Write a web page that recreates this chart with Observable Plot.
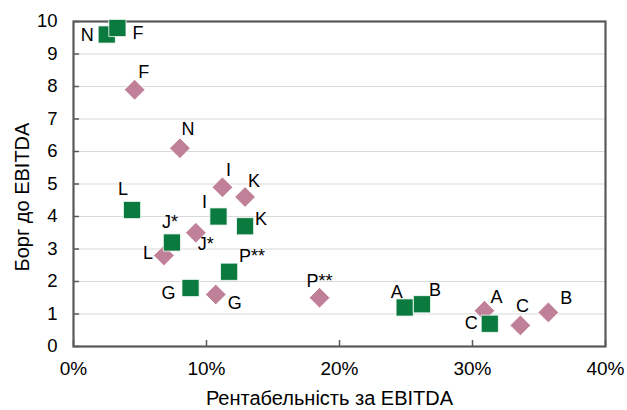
<!DOCTYPE html>
<html>
<head>
<meta charset="utf-8">
<script src="https://cdn.jsdelivr.net/npm/d3@7"></script>
<script src="https://cdn.jsdelivr.net/npm/@observablehq/plot@0.6"></script>
<style>
  html, body { margin: 0; padding: 0; background: #fff; }
  #chart svg { display: block; }
</style>
</head>
<body>
<div id="chart"></div>
<script>
// Series 1: green squares
const greenNames = ["N", "F", "L", "J*", "I", "K", "P**", "G", "A", "B", "C"];
const greenMargin = [2.5, 3.3, 4.4, 7.4, 10.9, 12.9, 11.7, 8.8, 24.9, 26.2, 31.3]; // EBITDA margin, %
const greenDebt = [9.6, 9.8, 4.2, 3.2, 4.0, 3.7, 2.3, 1.8, 1.2, 1.3, 0.7];          // Debt / EBITDA

// Series 2: pink diamonds
const pinkNames = ["F", "N", "I", "K", "J*", "L", "G", "P**", "A", "C", "B"];
const pinkMargin = [4.6, 8.0, 11.2, 12.9, 9.2, 6.8, 10.7, 18.5, 30.9, 33.6, 35.7];
const pinkDebt = [7.9, 6.1, 4.9, 4.6, 3.5, 2.8, 1.6, 1.5, 1.1, 0.65, 1.05];

// Axis ticks and titles
const xTicks = [0, 10, 20, 30, 40];
const yTicks = [0, 1, 2, 3, 4, 5, 6, 7, 8, 9, 10];
const xTitle = "Рентабельність за EBITDA";
const yTitle = "Борг до EBITDA";

// Label placement (layout only): [anchor, dx, dy]
const greenLabelPlace = [
  ["end", -13, 1], ["start", 15, 5], ["middle", -9, -21], ["middle", -2, -20],
  ["middle", -14, -14], ["start", 10, -7], ["start", 10, -16], ["end", -15, 5],
  ["middle", -8, -15], ["middle", 13, -14], ["end", -12, -1]
];
const pinkLabelPlace = [
  ["middle", 9, -18], ["middle", 8, -19], ["middle", 6, -17], ["middle", 9, -16],
  ["middle", 10, 11], ["end", -11, -2], ["start", 12, 9], ["middle", 0, -17],
  ["middle", 12, -14], ["middle", 2, -19], ["middle", 18, -14]
];

const green = greenNames.map((n, i) => ({name: n, x: greenMargin[i] / 100, y: greenDebt[i], place: greenLabelPlace[i]}));
const pink = pinkNames.map((n, i) => ({name: n, x: pinkMargin[i] / 100, y: pinkDebt[i], place: pinkLabelPlace[i]}));

const GREEN = "#0b7a3f";
const PINK = "#bf8098";
const AXIS = "#595959";
const FONT = "Liberation Sans, Arial, sans-serif";

function labelMarks(data) {
  return data.map(d => Plot.text([d], {
    x: "x", y: "y", text: "name",
    textAnchor: d.place[0], dx: d.place[1], dy: d.place[2],
    fontSize: 18, fill: "#000", lineAnchor: "middle"
  }));
}

const chart = Plot.plot({
  width: 627,
  height: 410,
  marginLeft: 73,
  marginRight: 22,
  marginTop: 21,
  marginBottom: 64,
  style: {fontFamily: FONT, fontSize: "18px", color: "#000", background: "#fff"},
  x: {domain: [0, 0.4]},
  y: {domain: [0, 10]},
  marks: [
    Plot.ruleY(yTicks.slice(1, -1), {stroke: "#d9d9d9", strokeWidth: 1.2}),
    Plot.axisX(xTicks.map(v => v / 100), {
      tickFormat: d3.format(".0%"), tickSize: 0, tickPadding: 15,
      fontSize: 19, fill: "#000", label: null
    }),
    Plot.axisY(yTicks, {tickSize: 0, tickPadding: 16, fontSize: 18.5, fill: "#000", label: null}),
    Plot.ruleX(xTicks.map(v => v / 100), {insetTop: 319, stroke: AXIS, strokeWidth: 1.5}),
    Plot.ruleY(yTicks, {insetRight: 526, stroke: AXIS, strokeWidth: 1.5}),
    Plot.frame({stroke: AXIS, strokeWidth: 2.2}),
    Plot.dot(pink, {x: "x", y: "y", symbol: "diamond2", r: 9.3, fill: PINK, stroke: "#fff", strokeWidth: 0.8}),
    Plot.dot(green, {x: "x", y: "y", symbol: "square", r: 9.7, fill: GREEN, stroke: "#fff", strokeWidth: 0.8}),
    ...labelMarks(green),
    ...labelMarks(pink),
    Plot.text([xTitle], {frameAnchor: "bottom", textAnchor: "middle", lineAnchor: "middle", dx: -10, dy: 52, fontSize: 20, fill: "#000"}),
    Plot.text([yTitle], {frameAnchor: "left", textAnchor: "middle", lineAnchor: "middle", dx: -51, dy: 13, rotate: -90, fontSize: 20, fill: "#000"})
  ]
});

document.getElementById("chart").appendChild(chart);
</script>
</body>
</html>
